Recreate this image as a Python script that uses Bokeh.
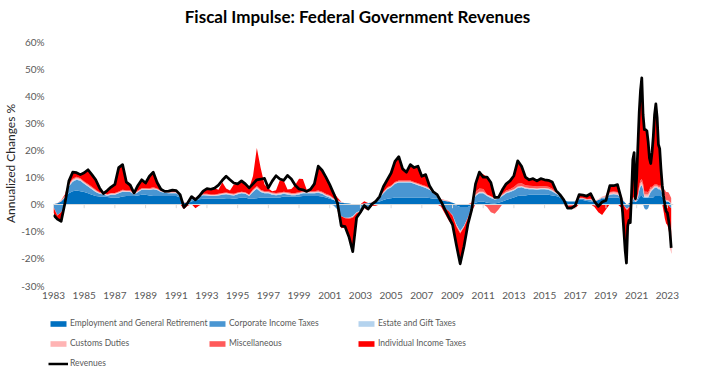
import numpy as np
from bokeh.plotting import figure
from bokeh.layouts import column
from bokeh.models import Range1d, FixedTicker, Legend, LegendItem, Label
from bokeh.embed import file_html
from bokeh.resources import INLINE

# time index: quarterly 1983-2019, then monthly 2020 - Apr 2023 (decimal years)
dates = [1983 + q / 4 for q in range(148)] + [2020 + m / 12 for m in range(40)]

revenues = [
    -4.0, -5.5, -6.3, 0.5,   8.5, 11.8, 11.6, 10.9,   11.6, 12.7, 10.9, 9.0,   6.0, 3.9, 5.0, 6.3,
    7.3, 13.5, 14.6, 8.1,   7.0, 4.1, 6.9, 9.0,   7.8, 10.3, 11.8, 8.0,   5.5, 4.7, 4.8, 5.2,
    5.0, 3.5, -1.2, 0.5,   2.8, 1.6, 3.0, 4.8,   5.7, 5.5, 5.9, 7.0,   8.8, 10.3, 9.0, 7.8,
    7.5, 8.6, 7.5, 6.0,   7.5, 9.0, 9.2, 9.5,   6.0, 8.5, 10.5, 9.3,   8.8, 10.6, 9.3, 7.0,
    5.6, 5.3, 4.7, 5.5,   7.5, 14.0, 12.5, 10.0,   7.2, 4.0, 0.5, -8.0,   -8.3, -12.0, -17.5, -5.0,
    -3.0, -0.5, -1.8, 0.0,   1.0, 2.8, 6.5, 9.0,   11.5, 15.8, 17.5, 13.0,   11.8, 14.6, 13.5, 14.0,
    10.3, 10.9, 6.8, 4.5,   3.5, 1.0, -1.9, -4.8,   -7.5, -15.0, -22.0, -15.5,   -7.5, -2.0, 7.5, 11.8,
    10.0, 10.0, 8.0, 2.5,   2.5, 5.3, 7.5, 8.6,   10.5, 16.0, 14.0, 10.0,   9.0, 9.4, 8.6, 9.4,
    9.0, 8.8, 8.2, 5.0,   3.5, 1.6, -1.5, -1.5,   -0.5, 3.5, 3.3, 3.0,   3.9, 1.0, -0.8, 0.8,
    1.4, 6.8, 6.8, 7.2,
    2.0, -3.0, -10.0, -17.0, -21.7, -8.0, -6.0, -6.8, 4.0, 16.5, 19.0, 2.0,
    10.0, 22.0, 34.0, 42.0, 46.6, 33.0, 27.5, 27.5, 27.0, 23.0, 17.0, 15.0,
    19.0, 25.0, 33.0, 37.0, 32.0, 22.0, 20.5, 13.0, 7.0, 3.0, 0.0, -2.6,
    -3.2, -6.0, -10.0, -16.1,
]

employment = [
    0.0, 0.3, 1.0, 2.5,   4.0, 4.8, 5.0, 4.8,   4.5, 4.0, 3.5, 3.0,   2.8, 2.8, 2.6, 2.5,
    2.5, 2.5, 2.8, 3.0,   3.0, 3.0, 3.2, 3.5,   3.5, 3.2, 3.0, 3.0,   3.0, 3.0, 3.0, 3.0,
    3.0, 2.5, 0.5, 0.3,   1.0, 1.5, 1.8, 2.0,   2.0, 2.0, 2.0, 2.0,   2.0, 2.2, 2.2, 2.0,
    2.2, 2.5, 2.5, 2.0,   2.0, 2.2, 2.5, 2.5,   2.5, 2.5, 2.5, 2.5,   2.8, 2.8, 2.8, 2.8,
    2.8, 3.0, 3.0, 3.0,   3.0, 3.0, 2.8, 2.5,   2.0, 1.5, 1.0, 0.5,   0.3, 0.2, 0.0, 0.0,
    0.0, 0.2, 0.3, 0.5,   0.8, 1.0, 1.5, 2.0,   2.2, 2.5, 2.5, 2.5,   2.5, 2.5, 2.5, 2.5,
    2.5, 2.5, 2.3, 2.0,   2.0, 1.5, 1.2, 1.0,   0.5, -0.5, -1.0, -1.0,   -1.0, -0.3, 0.5, 1.0,
    1.0, 0.5, 0.3, 0.2,   0.5, 1.0, 1.5, 2.0,   2.5, 3.0, 3.2, 3.2,   3.5, 3.5, 3.5, 3.5,
    3.5, 3.5, 3.2, 3.0,   2.5, 1.5, 1.0, 1.0,   1.0, 1.5, 1.5, 1.2,   1.0, 1.0, 1.5, 2.0,
    2.0, 2.5, 2.5, 2.5,
    2.0, 1.5, 1.0, 0.5, 0.0, 0.0, 0.3, 0.5, 0.8, 1.0, 1.0, 0.8,
    1.0, 1.5, 2.5, 3.0, 3.0, 2.5, 2.5, 2.5, 2.5, 2.5, 2.5, 2.5,
    2.5, 2.5, 3.0, 3.0, 3.0, 3.0, 3.0, 3.0, 2.5, 2.0, 1.5, 1.0,
    1.0, 0.8, 0.5, 0.0,
]

corporate = [
    -1.0, -4.0, -3.0, -0.5,   2.5, 3.5, 4.0, 3.8,   3.0, 2.5, 2.0, 1.5,   1.0, 0.8, 0.5, 1.0,
    1.0, 1.5, 1.8, 1.5,   1.5, 0.5, 1.2, 1.8,   1.8, 2.0, 2.5, 2.2,   1.5, 1.2, 1.0, 1.0,
    1.0, 0.5, -0.3, 0.2,   0.8, 0.5, 1.0, 1.3,   1.2, 1.0, 1.0, 1.2,   1.5, 1.5, 1.2, 1.2,
    1.5, 1.5, 1.3, 1.0,   2.5, 3.5, 2.0, 1.5,   1.5, 1.0, 0.8, 1.0,   1.0, 0.8, 0.5, 0.5,
    0.8, 1.0, 1.0, 1.0,   1.0, 1.2, 1.0, 0.5,   0.5, -0.5, -2.0, -4.5,   -5.0, -5.0, -4.5, -3.0,
    -2.5, -1.5, -1.0, -0.5,   0.5, 1.5, 2.5, 3.5,   4.0, 5.0, 5.5, 5.5,   5.5, 5.5, 5.0, 4.5,
    4.0, 3.5, 3.0, 2.0,   1.0, -0.5, -1.5, -2.5,   -4.0, -7.0, -9.0, -7.0,   -4.0, -1.0, 2.5, 3.0,
    3.0, 2.5, 2.0, 1.5,   1.5, 2.0, 2.5, 2.5,   2.5, 3.0, 3.0, 2.5,   2.0, 2.0, 1.8, 2.0,
    2.0, 1.8, 1.5, 0.8,   0.5, 0.0, -0.5, -0.3,   -0.3, 0.5, 0.5, 0.3,   0.5, -0.5, -0.5, 0.5,
    0.5, 1.0, 1.2, 1.0,
    0.5, 0.0, -0.5, -1.0, -1.5, -1.5, -1.0, -1.0, -0.5, 0.5, 1.0, 0.0,
    0.5, 1.0, 2.5, 3.5, 4.0, 3.0, -1.5, -2.0, -2.0, -1.5, 1.0, 2.0,
    2.5, 3.0, 3.0, 3.0, 3.0, 2.5, 2.5, 2.0, 1.5, 0.5, 0.3, 0.0,
    0.0, -0.5, -1.0, -1.5,
]

estate = [
    0.0, 0.0, 0.1, 0.2,   0.3, 0.3, 0.3, 0.3,   0.3, 0.3, 0.3, 0.2,   0.2, 0.2, 0.2, 0.2,
    0.2, 0.2, 0.2, 0.2,   0.2, 0.2, 0.2, 0.2,   0.2, 0.2, 0.2, 0.2,   0.2, 0.2, 0.2, 0.2,
    0.2, 0.1, 0.1, 0.1,   0.2, 0.2, 0.2, 0.2,   0.2, 0.2, 0.2, 0.2,   0.2, 0.2, 0.2, 0.2,
    0.2, 0.2, 0.2, 0.2,   0.3, 0.3, 0.3, 0.3,   0.3, 0.3, 0.3, 0.3,   0.3, 0.3, 0.3, 0.3,
    0.3, 0.3, 0.3, 0.3,   0.3, 0.3, 0.3, 0.3,   0.3, 0.3, 0.2, 0.2,   0.0, -0.1, -0.2, -0.2,
    -0.2, -0.1, -0.1, 0.0,   0.1, 0.1, 0.2, 0.2,   0.2, 0.2, 0.2, 0.2,   0.2, 0.2, 0.2, 0.2,
    0.2, 0.2, 0.2, 0.2,   0.2, 0.1, 0.1, 0.0,   -0.1, -0.3, -0.3, -0.2,   -0.1, 0.0, 0.3, 0.3,
    0.3, 0.3, 0.3, 0.3,   0.3, 0.3, 0.3, 0.3,   0.3, 0.3, 0.3, 0.3,   0.3, 0.3, 0.3, 0.3,
    0.3, 0.3, 0.3, 0.2,   0.2, 0.1, 0.0, 0.0,   0.0, 0.1, 0.1, 0.1,   0.1, 0.0, 0.0, 0.0,
    0.0, 0.1, 0.1, 0.1,
    0.1, 0.1, 0.1, 0.0, 0.0, 0.0, 0.1, 0.1, 0.1, 0.1, 0.1, 0.1,
    0.1, 0.2, 0.3, 0.3, 0.3, 0.3, 0.3, 0.3, 0.3, 0.3, 0.3, 0.3,
    0.3, 0.3, 0.3, 0.3, 0.3, 0.3, 0.3, 0.3, 0.3, 0.2, 0.2, 0.2,
    0.2, 0.2, 0.1, 0.1,
]

customs = [
    0.0, 0.1, 0.2, 0.3,   0.3, 0.4, 0.4, 0.4,   0.3, 0.3, 0.3, 0.3,   0.2, 0.2, 0.2, 0.2,
    0.2, 0.2, 0.2, 0.2,   0.2, 0.2, 0.2, 0.2,   0.2, 0.2, 0.2, 0.2,   0.2, 0.2, 0.2, 0.2,
    0.2, 0.1, 0.1, 0.1,   0.1, 0.1, 0.1, 0.1,   0.2, 0.2, 0.2, 0.2,   0.2, 0.2, 0.2, 0.2,
    0.2, 0.2, 0.2, 0.2,   0.3, 0.3, 0.2, 0.2,   0.2, 0.2, 0.2, 0.2,   0.2, 0.2, 0.2, 0.2,
    0.2, 0.2, 0.2, 0.2,   0.2, 0.2, 0.2, 0.2,   0.2, 0.2, 0.1, 0.1,   0.0, 0.0, 0.0, 0.0,
    0.0, 0.1, 0.1, 0.1,   0.1, 0.1, 0.2, 0.2,   0.2, 0.2, 0.2, 0.2,   0.2, 0.2, 0.2, 0.2,
    0.2, 0.2, 0.2, 0.2,   0.2, 0.1, 0.1, 0.1,   0.0, -0.1, -0.2, -0.1,   0.0, 0.1, 0.3, 0.3,
    0.3, 0.3, 0.3, 0.2,   0.2, 0.2, 0.2, 0.2,   0.2, 0.2, 0.2, 0.2,   0.2, 0.2, 0.2, 0.2,
    0.2, 0.2, 0.2, 0.2,   0.1, 0.1, 0.0, 0.0,   0.0, 0.1, 0.1, 0.1,   0.2, 0.3, 0.3, 0.3,
    0.5, 0.6, 0.6, 0.6,
    0.5, 0.3, 0.2, 0.0, -0.2, -0.2, 0.0, 0.0, 0.2, 0.3, 0.3, 0.2,
    0.3, 0.5, 0.8, 1.0, 1.0, 0.8, 0.8, 0.8, 0.8, 0.8, 0.8, 0.8,
    0.5, 0.5, 0.5, 0.5, 0.5, 0.5, 0.5, 0.5, 0.4, 0.3, 0.3, 0.3,
    0.3, 0.3, 0.2, 0.2,
]

miscellaneous = [
    -0.2, -0.3, 0.1, 0.2,   0.3, 0.4, 0.4, 0.3,   0.3, 0.3, 0.3, 0.3,   0.2, 0.2, 0.2, 0.2,
    0.2, 0.3, 0.3, 0.2,   0.2, 0.2, 0.2, 0.2,   0.2, 0.3, 0.3, 0.2,   0.2, 0.1, 0.2, 0.2,
    0.2, 0.2, 0.1, 0.1,   0.1, 0.1, 0.1, 0.2,   0.2, 0.2, 0.2, 0.2,   0.2, 0.2, 0.2, 0.2,
    0.2, 0.2, 0.2, 0.2,   0.3, 0.4, 0.3, 0.3,   0.3, 0.3, 0.3, 0.3,   0.3, 0.3, 0.3, 0.3,
    0.3, 0.3, 0.3, 0.3,   0.3, 0.3, 0.3, 0.3,   0.3, 0.2, 0.2, 0.1,   -0.2, -0.3, -0.3, -0.2,
    -0.1, 0.0, 0.0, 0.1,   0.1, 0.2, 0.2, 0.3,   0.3, 0.3, 0.3, 0.3,   0.3, 0.3, 0.3, 0.3,
    0.3, 0.3, 0.3, 0.3,   0.2, 0.2, 0.1, 0.1,   -0.2, -0.3, -0.3, -0.2,   0.0, 0.5, 1.0, 1.2,
    1.0, -1.0, -3.0, -3.5,   -2.0, 0.3, 0.5, 0.5,   0.8, 1.0, 1.0, 0.8,   0.8, 0.7, 0.7, 0.6,
    0.6, 0.6, 0.5, 0.3,   0.2, 0.0, -0.2, -0.2,   -0.2, 0.2, 0.2, 0.2,   0.2, 0.0, 0.0, 0.0,
    0.2, 0.3, 0.3, 0.3,
    0.2, 0.1, 0.0, -0.3, -0.5, -0.3, -0.2, -0.2, 0.2, 0.3, 0.3, 0.2,
    0.3, 0.5, 1.0, 1.0, 1.0, 1.0, 1.0, 1.0, 1.0, 0.8, 0.8, 0.8,
    0.5, 0.5, 0.5, 0.5, 0.5, 0.5, 0.5, 1.0, 1.5, 2.5, 3.0, 3.0,
    3.0, 3.0, 2.5, 2.0,
]

individual = [
    -2.0, -1.5, -2.5, 0.5,   1.0, 2.4, 1.5, 1.3,   3.2, 5.3, 4.5, 3.7,   1.6, 0.3, 1.3, 2.2,
    3.2, 8.8, 9.3, 3.0,   1.9, 0.0, 1.9, 3.1,   1.9, 4.4, 5.6, 2.2,   0.4, 0.0, 0.2, 0.6,
    0.4, 0.1, -1.5, -0.6,   0.6, -1.5, -0.5, 1.0,   1.9, 1.5, 2.3, 1.5,   4.0, 1.5, 1.0, 3.5,
    3.2, 4.0, 3.1, 2.4,   5.0, 14.0, 8.0, 2.5,   1.0, 0.5, 1.0, 4.5,   4.0, 1.0, 1.5, 3.0,
    5.0, 4.5, 0.5, 0.8,   2.7, 9.0, 7.9, 6.2,   3.9, 2.3, 1.0, -4.4,   -3.3, -6.6, -12.5, -1.7,
    -0.5, 0.8, -1.1, -0.2,   -0.6, -0.1, 1.9, 2.8,   4.6, 7.6, 8.8, 4.3,   3.1, 5.9, 5.3, 6.3,
    3.1, 4.2, 0.8, -0.2,   -0.1, -0.4, -1.9, -3.5,   -3.7, -6.8, -11.2, -7.0,   -2.4, -1.3, 2.9, 6.0,
    5.4, 6.4, 5.1, 0.3,   0.0, 1.5, 2.5, 3.1,   4.2, 8.5, 6.3, 3.0,   2.2, 2.7, 2.1, 2.8,
    2.4, 2.4, 2.5, 0.5,   0.0, -0.1, -0.8, -1.0,   -1.0, 1.1, 0.9, 1.1,   2.2, -0.5, -2.5, -4.0,
    -2.0, 2.3, 2.1, 2.7,
    -1.3, -5.0, -10.8, -16.2, -19.5, -6.0, -5.2, -6.2, 3.2, 14.3, 16.3, 0.7,
    7.8, 18.3, 26.9, 33.2, 37.3, 25.4, 22.9, 22.9, 22.4, 18.6, 11.6, 8.6,
    12.7, 18.2, 25.7, 29.7, 24.7, 15.2, 13.7, 6.2, 0.8, -2.5, -5.3, -7.1,
    -7.7, -8.8, -12.3, -16.9,
]

series_names = ["Employment and General Retirement", "Corporate Income Taxes", "Estate and Gift Taxes",
                "Customs Duties", "Miscellaneous", "Individual Income Taxes"]
series_values = [employment, corporate, estate, customs, miscellaneous, individual]
series_colors = ["#0070C0", "#4A96D2", "#B4D3EE", "#FFB4B4", "#FF5A5A", "#FF0000"]

x_tick_years = list(range(1983, 2024, 2))
y_ticks = [-30, -20, -10, 0, 10, 20, 30, 40, 50, 60]
y_tick_labels = ["-30%", "-20%", "-10%", "0%", "10%", "20%", "30%", "40%", "50%", "60%"]
chart_title = "Fiscal Impulse: Federal Government Revenues"

FONT = "Lato"
GREY = "#595959"

# ---------------- title strip ----------------
tf = figure(width=708, height=34, output_backend="svg", toolbar_location=None,
            x_axis_type=None, y_axis_type=None,
            min_border_left=0, min_border_right=0, min_border_top=0, min_border_bottom=0,
            x_range=Range1d(0, 708), y_range=Range1d(0, 34))
tf.outline_line_color = None
tf.grid.visible = False
tf.frame_align = False
tf.add_layout(Label(x=357, y=18.5, text=chart_title, text_align="center", text_baseline="middle",
                    text_font=FONT, text_font_size="17px", text_font_style="bold",
                    text_color="#000000"))

# ---------------- main chart ----------------
p = figure(width=708, height=282, output_backend="svg", toolbar_location=None,
           x_range=Range1d(1983.0, 2023.4), y_range=Range1d(-30, 60),
           min_border_left=46, min_border_right=35, min_border_top=7, min_border_bottom=31)
p.outline_line_color = None
p.xgrid.grid_line_color = None
p.ygrid.grid_line_color = None
p.frame_align = False

x = np.array(dates, dtype=float)
pos_base = np.zeros(len(x))
neg_base = np.zeros(len(x))
for name, vals, color in zip(series_names, series_values, series_colors):
    v = np.array(vals, dtype=float)
    pos = np.clip(v, 0, None)
    neg = np.clip(v, None, 0)
    p.varea(x=x, y1=pos_base.copy(), y2=pos_base + pos, fill_color=color)
    p.varea(x=x, y1=neg_base.copy(), y2=neg_base + neg, fill_color=color)
    pos_base = pos_base + pos
    neg_base = neg_base + neg

# horizontal category axis line at 0 with tick marks
p.hspan(y=[0], line_color="#D9D9D9", line_width=1)
p.segment(x0=x_tick_years, y0=[0] * len(x_tick_years), x1=x_tick_years,
          y1=[-1.5] * len(x_tick_years), line_color="#D9D9D9", line_width=1)

p.line(x=x, y=revenues, line_color="black", line_width=2.75, line_join="round")

p.xaxis.ticker = FixedTicker(ticks=x_tick_years)
p.xaxis.major_label_overrides = {t: str(t) for t in x_tick_years}
p.xaxis.axis_line_color = None
p.xaxis.major_tick_line_color = None
p.xaxis.minor_tick_line_color = None
p.xaxis.major_tick_out = 0
p.xaxis.major_tick_in = 0
p.xaxis.major_label_standoff = 6
p.xaxis.major_label_text_font = FONT
p.xaxis.major_label_text_font_size = "10px"
p.xaxis.major_label_text_color = GREY

p.yaxis.ticker = FixedTicker(ticks=y_ticks)
p.yaxis.major_label_overrides = {t: l for t, l in zip(y_ticks, y_tick_labels)}
p.yaxis.axis_line_color = None
p.yaxis.major_tick_line_color = None
p.yaxis.minor_tick_line_color = None
p.yaxis.major_tick_out = 0
p.yaxis.major_tick_in = 0
p.yaxis.major_label_standoff = 9
p.yaxis.major_label_text_font = FONT
p.yaxis.major_label_text_font_size = "10px"
p.yaxis.major_label_text_color = GREY
p.yaxis.axis_label = "Annualized Changes %"
p.yaxis.axis_label_text_font = FONT
p.yaxis.axis_label_text_font_size = "12px"
p.yaxis.axis_label_text_font_style = "normal"
p.yaxis.axis_label_text_color = "#262626"
p.yaxis.axis_label_standoff = 0

# ---------------- legend strip ----------------
lf = figure(width=708, height=60, output_backend="svg", toolbar_location=None,
            x_axis_type=None, y_axis_type=None,
            min_border_left=0, min_border_right=0, min_border_top=0, min_border_bottom=0,
            x_range=Range1d(0, 1), y_range=Range1d(0, 1))
lf.outline_line_color = None
lf.grid.visible = False
lf.frame_align = False

# invisible legend handles (single point, zero area, outside the visible range)
handles = {}
for name, color in zip(series_names, series_colors):
    handles[name] = lf.varea(x=[-1], y1=[-1], y2=[-1], fill_color=color)
handles["Revenues"] = lf.line(x=[-1], y=[-1], line_color="black", line_width=2.5)

legend_columns = [
    (["Employment and General Retirement", "Customs Duties", "Revenues"], 48),
    (["Corporate Income Taxes", "Miscellaneous"], 207),
    (["Estate and Gift Taxes", "Individual Income Taxes"], 356),
]
for labels, vx in legend_columns:
    n = len(labels)
    h = n * 14 + (n - 1) * 6
    lg = Legend(items=[LegendItem(label=lbl, renderers=[handles[lbl]]) for lbl in labels],
                location=(vx, 60 - h), orientation="vertical",
                padding=0, margin=0, spacing=6, glyph_height=7, glyph_width=20,
                label_height=14, label_standoff=2, label_text_font=FONT,
                label_text_font_size="8.5px", label_text_color=GREY,
                background_fill_alpha=0, border_line_color=None)
    lf.add_layout(lg)

open("out.html", "w").write(file_html(column(tf, p, lf), INLINE))
